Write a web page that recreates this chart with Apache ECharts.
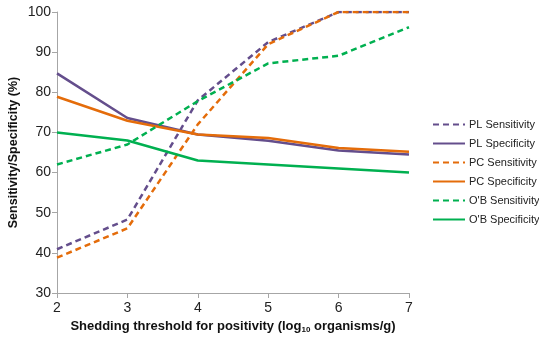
<!DOCTYPE html>
<html>
<head>
<meta charset="utf-8">
<script src="https://cdn.jsdelivr.net/npm/echarts@6/dist/echarts.min.js"></script>
<style>
html,body{margin:0;padding:0;background:#fff;}
#chart{width:539px;height:337px;}
</style>
</head>
<body>
<div id="chart"></div>
<script>
// thresholds (log10 organisms/g)
var thresholds = [2, 3, 4, 5, 6, 7];
var plSens = [40.9, 48.3, 78, 92.5, 100, 100];
var plSpec = [84.7, 73.6, 69.5, 67.9, 65.5, 64.5];
var pcSens = [38.8, 46.1, 72, 92, 100, 100];
var pcSpec = [78.9, 72.9, 69.5, 68.6, 66.1, 65.2];
var obSens = [62, 67, 77.8, 87.2, 89.1, 96.2];
var obSpec = [70, 68, 63, 62, 61, 60];

var purple = '#644e8c';
var orange = '#e46c0a';
var green = '#00b050';

function pts(arr){
	return thresholds.map(function(x,i){ return [x, arr[i]]; });
}
function line(name, arr, color, dashed){
	return {
		name: name,
		type: 'line',
		data: pts(arr),
		symbol: 'none',
		smooth: false,
		lineStyle: {color: color, width: 2.5, type: dashed ? [6, 4] : 'solid'},
		itemStyle: {color: color}
	};
}

var myChart = echarts.init(document.getElementById('chart'));
var option = {
	animation: false,
	grid: {left: 57, right: 130, top: 12, bottom: 44, containLabel: false, outerBoundsMode: 'none'},
	legend: {
		orient: 'vertical',
		left: 432,
		top: 119,
		padding: 0,
		itemWidth: 32,
		itemHeight: 12,
		itemGap: 8,
		itemStyle: {opacity: 0}, // hide the circle, keep the line
		textStyle: {fontFamily: 'Liberation Sans', fontSize: 11, color: '#222', padding: [0, 0, 0, -1]},
		data: ['PL Sensitivity', 'PL Specificity', 'PC Sensitivity', 'PC Specificity', "O'B Sensitivity", "O'B Specificity"]
	},
	xAxis: {
		type: 'value',
		min: 2, max: 7, interval: 1,
		name: '{b|Shedding threshold for positivity (log}{s|10}{b| organisms/g)}',
		nameLocation: 'middle',
		nameGap: 26,
		nameMoveOverlap: false,
		nameTextStyle: {
			rich: {
				b: {fontFamily: 'Liberation Sans', fontSize: 13, fontWeight: 'bold', color: '#111'},
				s: {fontFamily: 'Liberation Sans', fontSize: 8, fontWeight: 'bold', color: '#111', padding: [7, 0, 0, 0]}
			}
		},
		axisLine: {show: true, lineStyle: {color: '#a6a6a6', width: 1}},
		axisTick: {show: true, length: 5, lineStyle: {color: '#a6a6a6'}},
		axisLabel: {fontFamily: 'Liberation Sans', fontSize: 14, color: '#222', margin: 8},
		splitLine: {show: false}
	},
	yAxis: {
		type: 'value',
		min: 30, max: 100, interval: 10,
		name: 'Sensitivity/Specificity (%)',
		nameLocation: 'middle',
		nameGap: 37,
		nameMoveOverlap: false,
		nameTextStyle: {fontFamily: 'Liberation Sans', fontSize: 12.5, fontWeight: 'bold', color: '#111'},
		axisLine: {show: true, lineStyle: {color: '#a6a6a6', width: 1}},
		axisTick: {show: true, length: 5, lineStyle: {color: '#a6a6a6'}},
		axisLabel: {fontFamily: 'Liberation Sans', fontSize: 14, color: '#222', margin: 6},
		splitLine: {show: false}
	},
	series: [
		line('PL Sensitivity', plSens, purple, true),
		line('PL Specificity', plSpec, purple, false),
		line('PC Sensitivity', pcSens, orange, true),
		line('PC Specificity', pcSpec, orange, false),
		line("O'B Sensitivity", obSens, green, true),
		line("O'B Specificity", obSpec, green, false)
	]
};
myChart.setOption(option, true);
</script>
</body>
</html>
